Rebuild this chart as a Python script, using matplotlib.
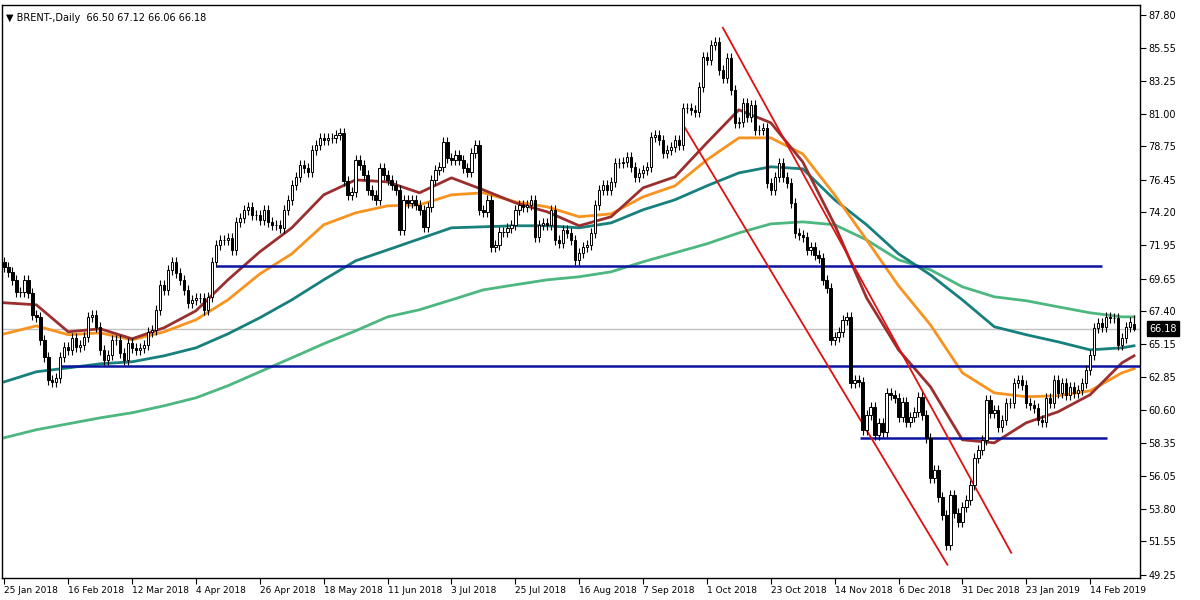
import numpy as np
import matplotlib
matplotlib.use("Agg")
import matplotlib.pyplot as plt

# daily closes, 25 Jan 2018 .. 22 Feb 2019
closes = [
    70.46, 70.11, 69.56, 68.73, 68.73, 69.56, 68.67, 67.15, 67.01, 65.43, 64.26, 62.68, 62.54, 62.82,
    64.26, 64.95, 64.74, 65.57, 64.95, 65.09, 65.64, 67.01, 67.15, 66.33, 64.74, 64.05, 64.40, 65.43,
    65.43, 64.54, 64.05, 65.22, 64.88, 64.74, 64.88, 65.09, 65.98, 66.12, 67.50, 69.22, 68.87, 70.25,
    70.80, 70.04, 69.56, 68.87, 67.98, 68.18, 68.32, 68.32, 67.50, 68.39, 70.80, 71.97,
    72.31, 72.31, 72.45, 71.62, 73.55, 73.83, 74.38, 74.58, 74.03, 74.03, 73.69, 74.38, 73.55, 73.35,
    73.35, 73.14, 74.38, 75.07, 76.10, 76.65, 77.47, 77.27, 76.99, 78.51, 78.85, 79.33, 79.20, 79.33,
    79.33, 79.54, 79.68, 76.37, 75.41, 75.62, 77.82, 77.47, 76.79, 75.75, 75.41, 75.07, 77.27, 76.79,
    76.44, 76.10, 75.75, 73.00,
    75.07, 74.86, 75.07, 74.72, 74.38, 73.21, 74.58, 76.44, 77.13, 77.34, 79.06, 77.96, 77.82, 78.16,
    77.82, 77.27, 76.99, 78.30, 78.85, 74.38, 74.24, 75.07, 71.83, 71.97, 72.86, 72.86, 73.14, 73.35,
    74.38, 74.72, 74.58, 74.72, 75.07, 72.52, 73.35, 73.48, 73.35, 74.38, 72.31, 72.11, 73.00, 72.79,
    72.31, 70.94, 71.42, 71.83, 71.97, 72.79, 74.72, 75.75, 76.10, 75.75, 76.30, 77.61,
    77.61, 77.68, 78.03, 77.34, 76.65, 76.92, 77.13, 77.34, 79.40, 79.54, 79.20, 78.30, 78.51, 78.71,
    79.20, 78.85, 81.40, 81.40, 81.26, 81.12, 82.84, 84.91, 84.70, 85.73, 85.94, 84.01, 83.46, 84.84,
    82.64, 80.37, 80.43, 81.74, 80.78, 81.60, 79.88, 79.88, 80.02, 76.24, 75.75, 76.65, 77.61, 76.65,
    76.24, 74.86, 72.79, 72.65, 72.52, 71.62, 71.83, 71.28,
    71.07, 69.56, 69.01, 65.43, 65.64, 65.98, 66.81, 67.01, 62.47, 62.68, 62.54, 59.24, 60.27, 60.82,
    58.89, 59.72, 59.10, 61.78, 61.65, 61.44, 60.13, 61.16, 59.79, 60.13, 60.48, 61.51, 60.27, 58.69,
    55.93, 56.48, 54.63, 53.39, 51.32, 54.76, 53.53, 52.91, 53.94, 54.42, 55.45, 57.31, 57.86, 58.55,
    61.30, 60.41, 60.61, 59.44, 59.93, 61.10, 61.10,
    62.47, 62.68, 62.33, 61.10, 60.96, 60.75, 59.93, 59.79, 61.44, 61.10, 62.68, 61.78, 62.47, 61.65,
    62.20, 61.78, 61.99, 62.47, 63.37, 64.40, 66.26, 66.60, 66.33, 67.01, 66.95, 66.95, 65.09, 65.57,
    66.33, 66.67, 66.18,
]
first_open = 70.80
last_ohlc = (66.50, 67.12, 66.06, 66.18)

# moving averages, read every 8 bars (+ last bar)
ma_bars = list(range(0, 281, 8)) + [283]
ma_fast = [67.98, 67.84, 65.98, 66.19, 65.50, 66.26, 67.43, 69.56, 71.49, 73.14, 75.41, 76.44, 76.30,
           75.55, 76.58, 75.75, 74.86, 74.24, 73.28, 73.90, 75.89, 76.65, 78.99, 81.26, 80.37, 77.68,
           73.35, 68.32, 64.74, 62.20, 58.55, 58.34, 59.72, 60.48, 61.65, 63.85, 64.33]
ma_mid = [65.84, 66.39, 65.78, 65.91, 65.43, 65.98, 66.81, 68.18, 69.97, 71.35, 73.35, 74.17, 74.65,
          74.72, 75.41, 75.55, 74.93, 74.58, 73.90, 74.10, 75.27, 76.03, 77.82, 79.33, 79.33, 78.23,
          75.41, 72.31, 69.15, 66.46, 63.16, 61.78, 61.51, 61.58, 61.92, 63.16, 63.44]
ma_slow = [62.54, 63.23, 63.50, 63.78, 63.92, 64.33, 64.88, 65.84, 66.95, 68.18, 69.56, 70.87, 71.62,
           72.38, 73.14, 73.21, 73.28, 73.28, 73.14, 73.48, 74.38, 75.07, 76.03, 76.92, 77.34, 77.20,
           75.07, 73.35, 71.35, 69.90, 68.18, 66.33, 65.78, 65.29, 64.74, 64.88, 65.02]
ma_long = [58.69, 59.24, 59.65, 60.06, 60.41, 60.89, 61.44, 62.27, 63.23, 64.19, 65.16, 66.05, 67.01,
           67.50, 68.18, 68.87, 69.22, 69.56, 69.77, 70.11, 70.80, 71.42, 72.04, 72.79, 73.41, 73.55,
           73.35, 72.31, 70.94, 70.25, 69.08, 68.39, 68.12, 67.70, 67.29, 67.01, 67.01]

# horizontal levels: price, first bar, last bar
levels = [(70.52, 53, 275), (63.64, 13.75, 284.5), (58.69, 214.25, 276.25)]
# channel lines: (bar, price) pairs
channel = [((180, 86.91), (252.25, 50.77)), ((170.5, 80.02), (236.25, 49.95))]

yticks = [49.25, 51.55, 53.80, 56.05, 58.35, 60.60, 62.85, 65.15, 67.40, 69.65, 71.95, 74.20,
          76.45, 78.75, 81.00, 83.25, 85.55, 87.80]
date_labels = ["25 Jan 2018", "16 Feb 2018", "12 Mar 2018", "4 Apr 2018", "26 Apr 2018",
               "18 May 2018", "11 Jun 2018", "3 Jul 2018", "25 Jul 2018", "16 Aug 2018",
               "7 Sep 2018", "1 Oct 2018", "23 Oct 2018", "14 Nov 2018", "6 Dec 2018",
               "31 Dec 2018", "23 Jan 2019", "14 Feb 2019"]

c = np.array(closes)
o = np.concatenate([[first_open], c[:-1]])
o[-1] = last_ohlc[0]
hi = np.maximum(o, c) + 0.35
lo = np.minimum(o, c) - 0.35
hi[-1], lo[-1] = last_ohlc[1], last_ohlc[2]
x = np.arange(len(c))

fig = plt.figure(figsize=(12, 6), dpi=100)
ax = fig.add_axes([0.002, 0.037, 0.948, 0.955])
ax.set_xlim(-0.5, 284.5)
ax.set_ylim(49.05, 88.49)

ax.axhline(c[-1], color="#c0c0c0", lw=1, zorder=1)
ma_style = dict(lw=2, zorder=2, solid_joinstyle="round")
ax.plot(ma_bars, ma_long, color="#4cb77f", **ma_style)
ax.plot(ma_bars, ma_slow, color="#17807d", **ma_style)
ax.plot(ma_bars, ma_mid, color="#f7931e", **ma_style)
ax.plot(ma_bars, ma_fast, color="#9b2f2f", **ma_style)
for p, a, b in levels:
    ax.hlines(p, a, b, color="#0a14a0", lw=1.8, zorder=3)
for (x0, y0), (x1, y1) in channel:
    ax.plot([x0, x1], [y0, y1], color="#dd1111", lw=1.3, zorder=3)

ax.vlines(x, lo, hi, color="black", lw=0.8, zorder=4)
up = c >= o
ax.bar(x[up], (c - o)[up], bottom=o[up], width=0.6, color="white", edgecolor="black", lw=0.7, zorder=5)
ax.bar(x[~up], (o - c)[~up], bottom=c[~up], width=0.6, color="black", edgecolor="black", lw=0.7, zorder=5)

ax.yaxis.tick_right()
ax.set_yticks(yticks)
ax.set_yticklabels([f"{v:.2f}" for v in yticks], fontsize=7)
ax.tick_params(axis="y", length=4, pad=2)
ax.set_xticks(np.arange(len(date_labels)) * 16)
ax.set_xticklabels(date_labels, fontsize=6.5, ha="left")
ax.tick_params(axis="x", length=4, pad=2)
for s in ax.spines.values():
    s.set_linewidth(1)

ax.text(1.008, c[-1], f"{c[-1]:.2f}", transform=ax.get_yaxis_transform(), fontsize=7, color="white",
        va="center", ha="left", bbox=dict(boxstyle="square,pad=0.25", fc="black", ec="black"))
ax.text(0.003, 0.985, "\u25bc BRENT-,Daily  66.50 67.12 66.06 66.18", transform=ax.transAxes,
        fontsize=7, va="top", ha="left")

fig.savefig("out.png", dpi=100, facecolor="white")
